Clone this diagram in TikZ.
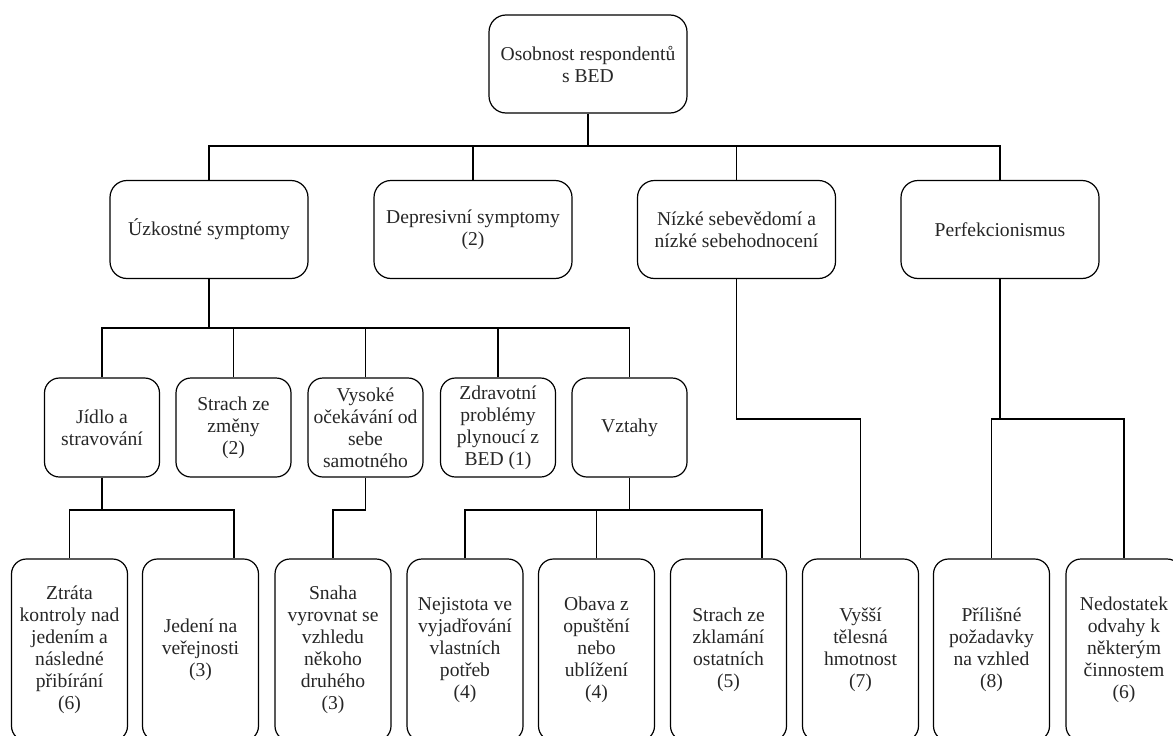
\documentclass[tikz,border=0pt]{standalone}
\usepackage{fontspec}
\setmainfont{Liberation Serif}
\begin{document}
\begin{tikzpicture}[x=1pt,y=-1pt,
  card/.style={draw=black, line width=1.2pt, rounded corners=15pt, align=center,
    inner sep=2pt, text=black!85, font=\fontsize{19.6}{22}\selectfont},
  top/.style={card, minimum width=198pt, minimum height=98pt, rounded corners=17pt},
  mid/.style={card, minimum width=115pt, minimum height=99pt},
  leaf/.style={card, minimum width=116pt, minimum height=182pt},
  link/.style={draw=black, line width=1.3pt}]
\useasboundingbox (0,0) rectangle (1173,736);

% root
\node[top] (root) at (588,64) {Osobnost respondentů\\s BED};

% first level
\node[top] (uzk)  at (209,229.5)    {Úzkostné symptomy};
\node[top] (dep)  at (473,229.5)    {Depresivní symptomy\\(2)};
\node[top] (niz)  at (736.5,229.5)  {Nízké sebevědomí a\\nízké sebehodnocení};
\node[top] (perf) at (1000,229.5)   {Perfekcionismus};

% second level
\node[mid] (jidlo)  at (102,427.5)   {Jídlo a\\stravování};
\node[mid] (strach) at (233.5,427.5) {Strach ze\\změny\\(2)};
\node[mid] (vysoke) at (365.5,427.5) {Vysoké\\očekávání od\\sebe\\samotného};
\node[mid] (zdrav)  at (498,427.5)   {Zdravotní\\problémy\\plynoucí z\\BED (1)};
\node[mid] (vztahy) at (629.5,427.5) {Vztahy};

% third level
\node[leaf] (ztrata)     at (69.5,650)  {Ztráta\\kontroly nad\\jedením a\\následné\\přibírání\\(6)};
\node[leaf] (jedeni)     at (200.5,650) {Jedení na\\veřejnosti\\(3)};
\node[leaf] (snaha)      at (333,650)   {Snaha\\vyrovnat se\\vzhledu\\někoho\\druhého\\(3)};
\node[leaf] (nejistota)  at (465,650)   {Nejistota ve\\vyjadřování\\vlastních\\potřeb\\(4)};
\node[leaf] (obava)      at (596.5,650) {Obava z\\opuštění\\nebo\\ublížení\\(4)};
\node[leaf] (zklamani)   at (728.5,650) {Strach ze\\zklamání\\ostatních\\(5)};
\node[leaf] (vyssi)      at (860.5,650) {Vyšší\\tělesná\\hmotnost\\(7)};
\node[leaf] (prilisne)   at (991.5,650) {Přílišné\\požadavky\\na vzhled\\(8)};
\node[leaf] (nedostatek) at (1124,650)  {Nedostatek\\odvahy k\\některým\\činnostem\\(6)};

% bus levels
\coordinate (b1) at (0,146);
\coordinate (b2) at (0,328);
\coordinate (b3) at (0,510);
\coordinate (b4) at (0,419);

% root to first level
\draw[link] (root.south) -- (root.south |- b1);
\draw[link] (uzk.north) -- (uzk.north |- b1) -| (perf.north);
\draw[link] (dep.north) -- (dep.north |- b1);
\draw[link] (niz.north) -- (niz.north |- b1);

% anxiety symptoms to second level
\draw[link] (uzk.south) -- (uzk.south |- b2);
\draw[link] (jidlo.north) -- (jidlo.north |- b2) -| (vztahy.north);
\draw[link] (strach.north) -- (strach.north |- b2);
\draw[link] (vysoke.north) -- (vysoke.north |- b2);
\draw[link] (zdrav.north) -- (zdrav.north |- b2);

% second level to third level
\draw[link] (jidlo.south) -- (jidlo.south |- b3);
\draw[link] (ztrata.north) -- (ztrata.north |- b3) -| ([xshift=33.5pt]jedeni.north);
\draw[link] (vysoke.south) -- (vysoke.south |- b3) -| (snaha.north);
\draw[link] (vztahy.south) -- (vztahy.south |- b3);
\draw[link] (nejistota.north) -- (nejistota.north |- b3) -| ([xshift=33.5pt]zklamani.north);
\draw[link] (obava.north) -- (obava.north |- b3);

% self-esteem and perfectionism branches
\draw[link] (niz.south) -- (niz.south |- b4) -| (vyssi.north);
\draw[link] (perf.south) -- (perf.south |- b4);
\draw[link] (prilisne.north) -- (prilisne.north |- b4) -| (nedostatek.north);
\end{tikzpicture}
\end{document}
